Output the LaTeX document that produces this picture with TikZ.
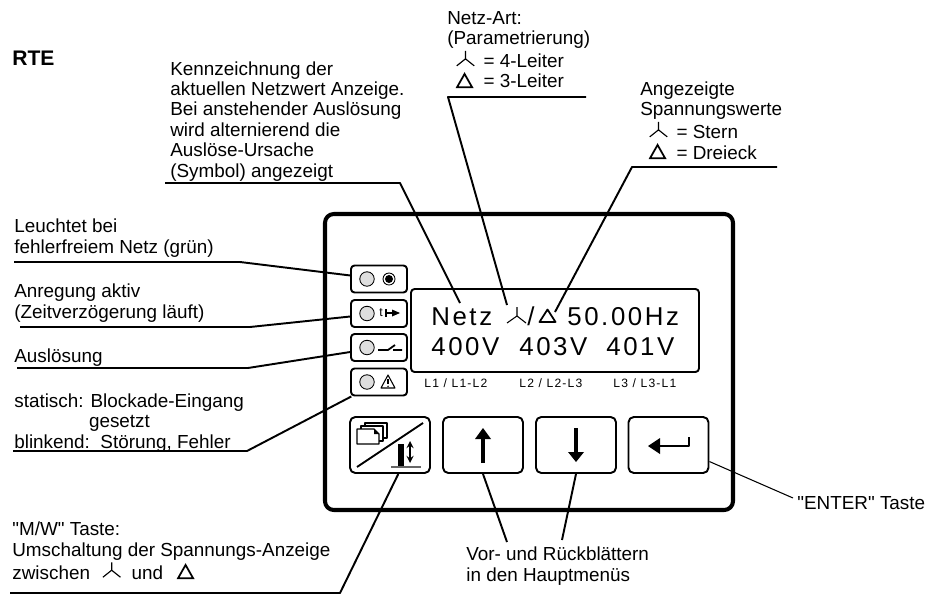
\documentclass[tikz,border=0pt]{standalone}
\usepackage{fontspec}
\setmainfont[Ligatures=TeXOff]{Liberation Sans}
\newfontfamily\lcdfont[LetterSpace=10]{Liberation Sans}
\newcommand{\sternsym}{\tikz[baseline=0pt,x=1pt,y=1pt,line width=.65pt]\draw (0,5)--(0,9.5) (0,5)--(-5,1) (0,5)--(5,1);}
\newcommand{\dreiecksym}{\tikz[baseline=0pt,x=1pt,y=1pt,line width=1pt,line join=miter]\draw (-4.3,.4)--(4.3,.4)--(0,8)--cycle;}
\tikzset{
	txt/.style={inner sep=0pt,anchor=base west,align=left,font=\fontsize{10.75}{11.6}\selectfont},
	leader/.style={line width=1.1pt},
	ledbox/.style={draw,line width=1.1pt,rounded corners=2pt,minimum width=1.12cm,minimum height=.54cm,inner sep=0pt},
	leddot/.style={draw,circle,fill=black!13,line width=.5pt,minimum size=.29cm,inner sep=0pt},
	taste/.style={draw,line width=1.1pt,rounded corners=3pt,minimum width=1.6cm,minimum height=1.12cm,inner sep=0pt},
	lcd/.style={inner sep=0pt,anchor=base west,font=\fontsize{14.7}{16}\lcdfont},
	lcdklein/.style={inner sep=0pt,anchor=base west,font=\fontsize{6.9}{8}\lcdfont}
}
\begin{document}
\begin{tikzpicture}[x=0.02cm,y=-0.02cm,line join=round,>=stealth]
	\useasboundingbox (0,0) rectangle (941,595);
	% Gehaeuse und Anzeige
	\draw[line width=2.3pt,rounded corners=5pt] (325,214) rectangle (733,510);
	\node[draw,line width=1.1pt,rounded corners=2pt,minimum width=5.76cm,minimum height=1.66cm,inner sep=0pt] (anzeige) at (555,330.5) {};
	\node[lcd] (netz) at (431,325) {Netz};
	\node[lcd] (freq) at (567,325) {50.00Hz};
	\node[lcd] (u1) at (431,355) {400V};
	\node[lcd] (u2) at (519,355) {403V};
	\node[lcd] (u3) at (606,355) {401V};
	\draw[line width=.6pt] (517,307)--(517,316)--(507,323) (517,316)--(526,323);
	\node[lcd] (strich) at (527,325) {/};
	\draw[line width=1pt] (539.5,322)--(555.5,322)--(547.5,309.5)--cycle;
	\node[lcdklein] (s1) at (424,387) {L1 / L1-L2};
	\node[lcdklein] (s2) at (519,387) {L2 / L2-L3};
	\node[lcdklein] (s3) at (613,387) {L3 / L3-L1};
	% LED Felder
	\foreach \i/\y in {1/279,2/313.5,3/347.5,4/382}{
		\node[ledbox] (box\i) at (379,\y) {};
		\node[leddot] (led\i) at (367,\y) {};
	}
	\draw[line width=.5pt] (389,279) circle (6);
	\fill (389,279) circle (4);
	\node[inner sep=0pt,font=\fontsize{7}{8}\selectfont] (tsym) at (381,312.5) {t};
	\draw[line width=.8pt] (386,309)--(386,317) (386,313)--(393,313);
	\fill (392,309.5)--(400,313)--(392,316.5)--cycle;
	\draw[line width=1pt] (378,350)--(388,350)--(395,345) (393,350)--(402,350);
	\draw[line width=.6pt] (388,375)--(395,388)--(381,388)--cycle;
	\draw[line width=1pt] (388,379)--(388,384);
	\fill (388,386.3) circle (.8);
	% Tasten
	\node[taste] (btnmw) at (390,445) {};
	\node[taste] (btnauf) at (483,445) {};
	\node[taste] (btnab) at (576,445) {};
	\node[taste] (btnenter) at (668.5,445) {};
	\draw[line width=1.1pt] (357,467)--(423,423);
	\draw[line width=.6pt,fill=white] (365,423) rectangle (387,438);
	\draw[line width=.6pt,fill=white] (361,426) rectangle (383,441);
	\draw[line width=.8pt,fill=white] (357,429)--(374,429)--(379,434)--(379,444)--(357,444)--cycle;
	\fill (374,429)--(379,434)--(374,434)--cycle;
	\fill (398,444) rectangle (404,466);
	\draw[line width=1.1pt,black!60] (391,467)--(421,467);
	\draw[<->,line width=.8pt] (410,441)--(410,463);
	\draw[line width=2.3pt] (483,463)--(483,438);
	\fill (475,439)--(483,428)--(491,439)--cycle;
	\draw[line width=2.3pt] (576,428)--(576,453);
	\fill (568,452)--(576,462)--(584,452)--cycle;
	\draw[line width=1.6pt] (659,446)--(689,446)--(689,437);
	\fill (660,438)--(648,446)--(660,454)--cycle;
	% Texte
	\node[inner sep=0pt,anchor=base west,font=\fontsize{12}{13}\bfseries] (titel) at (12,66) {RTE};
	\node[txt] (t1) at (14,253) {Leuchtet bei\\fehlerfreiem Netz (grün)};
	\node[txt] (t2) at (14,318) {Anregung aktiv\\(Zeitverzögerung läuft)};
	\node[txt] (t3) at (14,362) {Auslösung};
	\node[txt] (t4) at (14,448) {statisch: Blockade-Eingang\\\hspace*{42.5pt}gesetzt\\blinkend:\ \ Störung, Fehler};
	\node[txt] (t5) at (12,579) {"M/W" Taste:\\Umschaltung der Spannungs-Anzeige\\zwischen\hspace{7pt}\sternsym\hspace{6pt}und\hspace{8pt}\dreiecksym};
	\node[txt] (t6) at (170,177) {Kennzeichnung der\\aktuellen Netzwert Anzeige.\\Bei anstehender Auslösung\\wird alternierend die\\Auslöse-Ursache\\(Symbol) angezeigt};
	\node[txt] (t7) at (447,88) {Netz-Art:\\(Parametrierung)\\\hspace*{5pt}\sternsym\hspace{5pt}= 4-Leiter\\\hspace*{5pt}\dreiecksym\hspace{6pt}= 3-Leiter};
	\node[txt] (t8) at (640,159) {Angezeigte\\Spannungswerte\\\hspace*{5pt}\sternsym\hspace{5pt}= Stern\\\hspace*{5pt}\dreiecksym\hspace{6pt}= Dreieck};
	\node[txt] (t9) at (466,581) {Vor- und Rückblättern\\in den Hauptmenüs};
	\node[txt] (t10) at (797,509) {"ENTER" Taste};
	% Hinweislinien
	\coordinate (a1) at (14,262);
	\coordinate (a2) at (240,262);
	\coordinate (b1) at (20,327);
	\coordinate (b2) at (250,327);
	\coordinate (c1) at (17,368);
	\coordinate (c2) at (248,368);
	\coordinate (d1) at (13,451);
	\coordinate (d2) at (247,451);
	\coordinate (e1) at (10,593);
	\coordinate (e2) at (340,593);
	\coordinate (f1) at (165,183);
	\coordinate (f2) at (400,183);
	\coordinate (f3) at (460,303);
	\coordinate (g1) at (586,97);
	\coordinate (g2) at (448,97);
	\coordinate (g3) at (507,305);
	\coordinate (h1) at (777,167);
	\coordinate (h2) at (632,167);
	\coordinate (h3) at (555,312);
	\coordinate (i1) at (507,542);
	\coordinate (i2) at (562,540);
	\coordinate (j1) at (793,498);
	\draw[leader] (a1)--(a2)--(box1);
	\draw[leader] (b1)--(b2)--(box2);
	\draw[leader] (c1)--(c2)--(box3);
	\draw[leader] (d1)--(d2)--(box4);
	\draw[leader] (e1)--(e2)--(btnmw.-74);
	\draw[leader] (f1)--(f2)--(f3);
	\draw[leader] (g1)--(g2)--(g3);
	\draw[leader] (h1)--(h2)--(h3);
	\draw[leader] (i1)--(btnauf.south);
	\draw[leader] (i2)--(btnab.south);
	\draw[line width=.6pt] (j1)--(btnenter.-22);
\end{tikzpicture}
\end{document}
